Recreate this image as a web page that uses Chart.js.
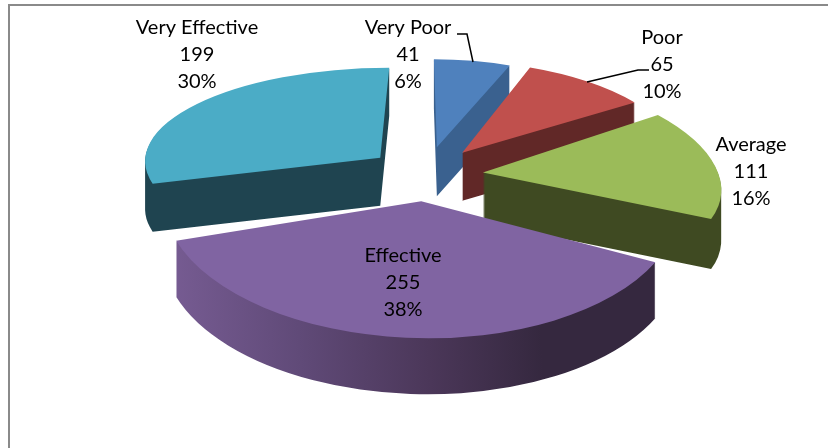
<!DOCTYPE html>
<html lang="en">

<head>
  <meta charset="UTF-8">
  <title>Exploded 3D pie</title>
  <script src="https://cdn.jsdelivr.net/npm/chart.js"></script>
  <style>
    html, body { margin: 0; padding: 0; background: #fff; overflow: hidden; }
    canvas { display: block; }
  </style>
</head>

<body>

  <canvas id="myChart" width="828" height="448"></canvas>

  <script>
    // Data
    const categories = ['Very Poor', 'Poor', 'Average', 'Effective', 'Very Effective'];
    const counts = [41, 65, 111, 255, 199];
    const percents = ['6%', '10%', '16%', '38%', '30%'];

    // Slice colours
    const topColors = ['#4f81bd', '#c0504d', '#9bbb59', '#8064a2', '#4bacc6'];
    const sideColors = ['#3a618f', '#612827', '#3f4a22', null, '#1f4450'];
    const effectiveSide = [[0, '#775c93'], [0.25, '#604a78'], [0.5, '#4b3759'], [0.72, '#35283f'], [1, '#35283f']];

    // Fake 3D view: each slice gets its own foreshortening, because the
    // original has perspective and canvas transforms are affine only
    const explode = 57;
    const tilt = 0.48;
    const rimX = [202, 215, 235, 258, 235];
    const rimY = [88, 92, 105, 137, 90];
    const shear = [0.034, 0.149, 0.38, 0.05, -0.1];
    const depth = [49, 48, 50, 56, 48];

    // Label anchors: centre x, first line y
    const labelPos = [[408, 28], [662, 38], [751, 145], [403, 256], [197, 28]];
    const leaders = [
      [[457, 34], [467, 34], [473, 62]],
      [[649, 70], [638, 70], [587, 82]]
    ];

    function sliceTransform(ctx, arc, i, drop) {
      const mid = (arc.startAngle + arc.endAngle) / 2;
      ctx.translate(arc.x + Math.cos(mid) * explode, arc.y + Math.sin(mid) * explode * tilt + drop);
      ctx.transform(1, 0, shear[i], 1, 0, 0);
      ctx.scale(rimX[i] / arc.outerRadius, rimY[i] / arc.outerRadius);
    }

    const pie3d = {
      id: 'pie3d',
      beforeDraw(chart) {
        const ctx = chart.ctx;
        ctx.save();
        ctx.strokeStyle = '#8a8a8a';
        ctx.lineWidth = 2;
        ctx.strokeRect(9, 5, 840, 470);
        ctx.restore();
      },
      beforeDatasetDraw(chart, args) {
        const ctx = chart.ctx;
        const arcs = args.meta.data;
        // back to front
        const order = arcs.map((a, i) => i).sort((a, b) =>
          Math.sin((arcs[a].startAngle + arcs[a].endAngle) / 2) - Math.sin((arcs[b].startAngle + arcs[b].endAngle) / 2));

        order.forEach(i => {
          const arc = arcs[i];
          const r = arc.outerRadius;

          // extrude: one path holding the slice outline at every drop, filled once
          ctx.beginPath();
          for (let d = depth[i]; d > 0; d--) {
            ctx.save();
            sliceTransform(ctx, arc, i, d);
            ctx.moveTo(0, 0);
            ctx.arc(0, 0, r, arc.startAngle, arc.endAngle);
            ctx.closePath();
            ctx.restore();
          }
          ctx.save();
          sliceTransform(ctx, arc, i, 0);
          let side = sideColors[i];
          if (!side) {
            side = ctx.createLinearGradient(-r, 0, r, 0);
            effectiveSide.forEach(s => side.addColorStop(s[0], s[1]));
          }
          ctx.fillStyle = side;
          ctx.fill();
          ctx.restore();

          ctx.save();
          sliceTransform(ctx, arc, i, 0);
          ctx.translate(-arc.x, -arc.y);
          arc.draw(ctx);
          ctx.restore();
        });
        return false;
      },
      afterDraw(chart) {
        const ctx = chart.ctx;
        ctx.save();
        ctx.strokeStyle = '#000';
        ctx.lineWidth = 1.5;
        leaders.forEach(pts => {
          ctx.beginPath();
          pts.forEach((p, n) => n ? ctx.lineTo(p[0], p[1]) : ctx.moveTo(p[0], p[1]));
          ctx.stroke();
        });
        ctx.fillStyle = '#000';
        ctx.font = '20px Lato';
        ctx.textAlign = 'center';
        ctx.textBaseline = 'middle';
        categories.forEach((name, i) => {
          const p = labelPos[i];
          ctx.fillText(name, p[0], p[1]);
          ctx.fillText(String(counts[i]), p[0], p[1] + 27);
          ctx.fillText(percents[i], p[0], p[1] + 54);
        });
        ctx.restore();
      }
    };

    new Chart(document.getElementById('myChart'), {
      type: 'pie',
      data: {
        labels: categories,
        datasets: [{
          data: counts,
          backgroundColor: topColors,
          borderWidth: 0
        }]
      },
      options: {
        responsive: false,
        animation: false,
        layout: { padding: { left: 24, bottom: 100 } },
        plugins: {
          legend: { display: false },
          tooltip: { enabled: false }
        }
      },
      plugins: [pie3d]
    });
  </script>

</body>

</html>
